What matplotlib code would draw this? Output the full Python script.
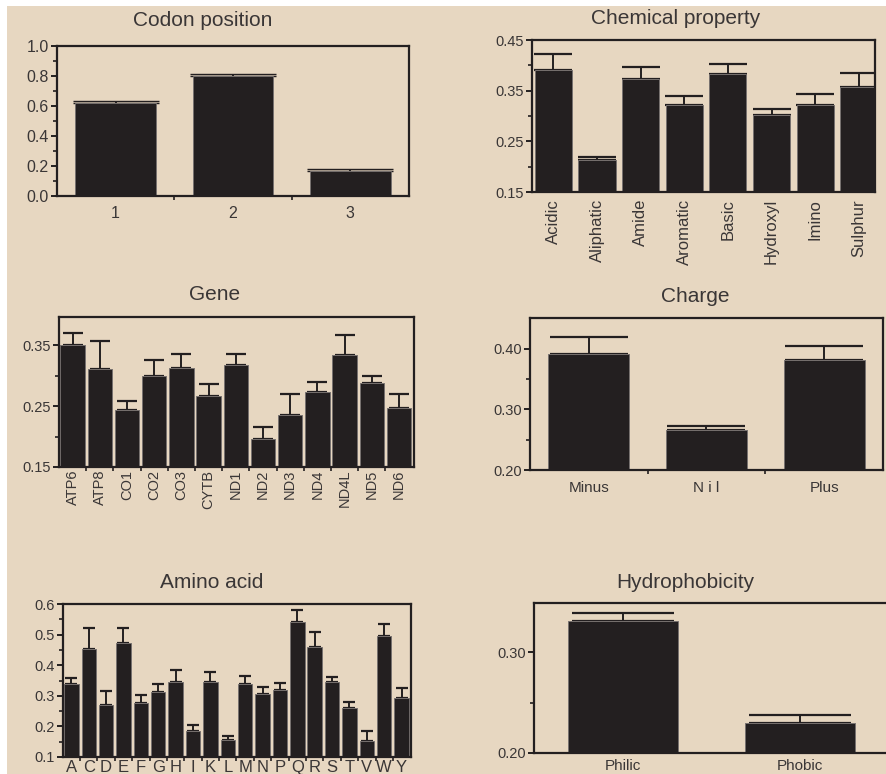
import matplotlib.pyplot as plt
from matplotlib.patches import Rectangle
from matplotlib.ticker import MultipleLocator, FixedLocator

# ---- data ----
codon_labels = ["1", "2", "3"]
codon_vals = [0.622, 0.800, 0.169]
codon_err = [0.013, 0.013, 0.013]

chem_labels = ["Acidic", "Aliphatic", "Amide", "Aromatic", "Basic", "Hydroxyl", "Imino", "Sulphur"]
chem_vals = [0.391, 0.213, 0.374, 0.321, 0.382, 0.302, 0.321, 0.358]
chem_err = [0.031, 0.006, 0.023, 0.019, 0.020, 0.011, 0.023, 0.027]

gene_labels = ["ATP6", "ATP8", "CO1", "CO2", "CO3", "CYTB", "ND1", "ND2", "ND3", "ND4", "ND4L", "ND5", "ND6"]
gene_vals = [0.350, 0.310, 0.243, 0.300, 0.313, 0.266, 0.317, 0.196, 0.236, 0.273, 0.334, 0.287, 0.247]
gene_err = [0.020, 0.046, 0.016, 0.026, 0.023, 0.020, 0.019, 0.020, 0.033, 0.016, 0.032, 0.012, 0.022]

charge_labels = ["Minus", "N i l", "Plus"]
charge_vals = [0.391, 0.266, 0.381]
charge_err = [0.029, 0.006, 0.023]

amino_labels = list("ACDEFGHIKLMNPQRSTVWY")
amino_vals = [0.339, 0.454, 0.271, 0.474, 0.278, 0.311, 0.346, 0.184, 0.346, 0.155,
              0.339, 0.305, 0.318, 0.542, 0.461, 0.344, 0.261, 0.152, 0.496, 0.294]
amino_err = [0.019, 0.066, 0.046, 0.046, 0.026, 0.027, 0.039, 0.020, 0.032, 0.012,
             0.025, 0.025, 0.025, 0.040, 0.046, 0.016, 0.018, 0.032, 0.039, 0.032]

hydro_labels = ["Philic", "Phobic"]
hydro_vals = [0.331, 0.230]
hydro_err = [0.008, 0.008]

# ---- style ----
plt.rcParams["font.family"] = ["Liberation Sans", "DejaVu Sans"]
BG = "#e7d7c1"
INK = "#231f20"
TXT = "#3a3636"

W, H = 887, 774
fig = plt.figure(figsize=(W / 100, H / 100), dpi=100)
fig.patch.set_facecolor("white")
bg = Rectangle((7 / W, 0), 1, 1 - 6 / H, transform=fig.transFigure,
               facecolor=BG, edgecolor="none", zorder=-10)
fig.add_artist(bg)


def make_ax(l, r, t, b, ysize=10.5):
    ax = fig.add_axes([l / W, 1 - b / H, (r - l) / W, (b - t) / H])
    ax.set_facecolor("none")
    for s in ax.spines.values():
        s.set_linewidth(1.6)
        s.set_color(INK)
    ax.tick_params(axis="y", which="major", length=4, width=1.4, color=INK,
                   labelsize=ysize, labelcolor=TXT, pad=2)
    ax.tick_params(axis="y", which="minor", length=3, width=1.2, color=INK)
    return ax


def bars(ax, x, vals, err, width, capsize, capthick=1.6):
    ax.bar(x, vals, width=width, color=INK, edgecolor="#77716f", linewidth=0.7, zorder=2)
    ax.errorbar(x, vals, yerr=[[0] * len(vals), err], fmt="none", ecolor=INK,
                elinewidth=1.4, capsize=capsize, capthick=capthick, zorder=1)


def title(x, y, s):
    fig.text(x / W, 1 - y / H, s, ha="center", va="center", fontsize=15, color="#3a3636")


def xcats(ax, x, labels, size, rot=0, pad=3, bound_ticks=True, tick_len=3):
    if bound_ticks:
        ax.xaxis.set_major_locator(FixedLocator([v + 0.5 for v in x[:-1]]))
        ax.tick_params(axis="x", which="major", length=tick_len, width=1.2, color=INK,
                       labelbottom=False)
    else:
        ax.xaxis.set_major_locator(FixedLocator([]))
    ax.xaxis.set_minor_locator(FixedLocator(x))
    ax.set_xticklabels(labels, minor=True, rotation=rot, fontsize=size, color=TXT)
    ax.tick_params(axis="x", which="minor", length=0, pad=pad)


# Codon position
ax = make_ax(57, 409, 46, 196, ysize=11.5)
x = [1, 2, 3]
bars(ax, x, codon_vals, codon_err, 0.69, 31, capthick=1.0)
ax.set_xlim(0.5, 3.5)
ax.set_ylim(0, 1.0)
ax.yaxis.set_major_locator(MultipleLocator(0.2))
ax.yaxis.set_minor_locator(MultipleLocator(0.1))
ax.set_yticklabels([f"{v:.1f}" for v in ax.get_yticks()])
xcats(ax, x, codon_labels, 11.5, pad=7)
title(203, 21, "Codon position")

# Chemical property
ax = make_ax(532, 875, 40, 192)
x = list(range(len(chem_labels)))
bars(ax, x, chem_vals, chem_err, 0.85, 14)
ax.set_xlim(-0.49, 7.37)
ax.set_ylim(0.15, 0.45)
ax.yaxis.set_major_locator(FixedLocator([0.15, 0.25, 0.35, 0.45]))
ax.yaxis.set_minor_locator(FixedLocator([0.20, 0.30, 0.40]))
ax.set_yticklabels(["0.15", "0.25", "0.35", "0.45"])
xcats(ax, x, chem_labels, 12, rot=90, pad=5, bound_ticks=False)
title(676, 18, "Chemical property")

# Gene
ax = make_ax(59, 414, 317, 467)
x = list(range(len(gene_labels)))
bars(ax, x, gene_vals, gene_err, 0.9, 7)
ax.set_xlim(-0.5, 12.55)
ax.set_ylim(0.15, 0.396)
ax.yaxis.set_major_locator(FixedLocator([0.15, 0.25, 0.35]))
ax.yaxis.set_minor_locator(FixedLocator([0.20, 0.30]))
ax.set_yticklabels(["0.15", "0.25", "0.35"])
xcats(ax, x, gene_labels, 10.5, rot=90, pad=2)
title(215, 294, "Gene")

# Charge
ax = make_ax(530, 883, 318, 470)
x = [1, 2, 3]
bars(ax, x, charge_vals, charge_err, 0.69, 28)
ax.set_xlim(0.5, 3.5)
ax.set_ylim(0.2, 0.451)
ax.yaxis.set_major_locator(FixedLocator([0.20, 0.30, 0.40]))
ax.yaxis.set_minor_locator(FixedLocator([0.25, 0.35]))
ax.set_yticklabels(["0.20", "0.30", "0.40"])
xcats(ax, x, charge_labels, 11, pad=8)
title(695, 296, "Charge")

# Amino acid
ax = make_ax(63, 411, 604, 757)
x = list(range(len(amino_labels)))
bars(ax, x, amino_vals, amino_err, 0.83, 4.5)
ax.set_xlim(-0.48, 19.54)
ax.set_ylim(0.1, 0.6)
ax.yaxis.set_major_locator(MultipleLocator(0.1))
ax.yaxis.set_minor_locator(MultipleLocator(0.05))
ax.set_yticklabels([f"{v:.1f}" for v in ax.get_yticks()])
xcats(ax, x, amino_labels, 12, pad=2)
title(212, 583, "Amino acid")

# Hydrophobicity
ax = make_ax(534, 889, 603, 753)
x = [1, 2]
bars(ax, x, hydro_vals, hydro_err, 0.62, 37)
ax.set_xlim(0.5, 2.5)
ax.set_ylim(0.2, 0.349)
ax.yaxis.set_major_locator(FixedLocator([0.20, 0.30]))
ax.yaxis.set_minor_locator(FixedLocator([0.25]))
ax.set_yticklabels(["0.20", "0.30"])
xcats(ax, x, hydro_labels, 11, pad=4, bound_ticks=False)
title(685, 582, "Hydrophobicity")

fig.savefig("out.png", dpi=100, facecolor=fig.get_facecolor())
